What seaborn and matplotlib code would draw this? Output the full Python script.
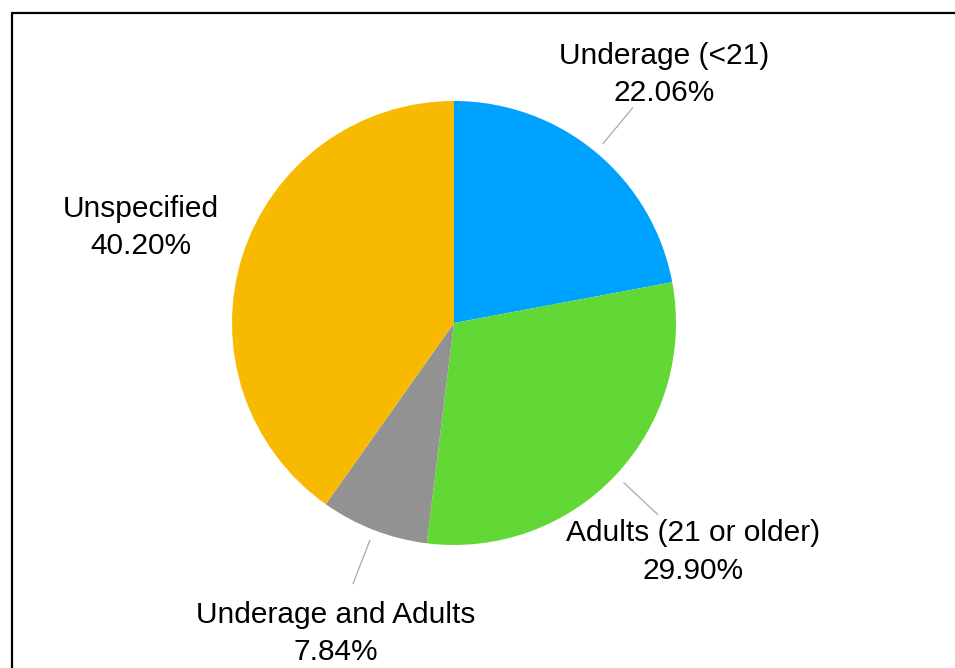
import matplotlib
matplotlib.use("Agg")
import matplotlib.pyplot as plt
import matplotlib.transforms as mtransforms
import seaborn as sns
import numpy as np

categories = ["Underage (<21)", "Adults (21 or older)", "Underage and Adults", "Unspecified"]
shares = [22.06, 29.90, 7.84, 40.20]
colors = ["#00A2FF", "#61D836", "#929292", "#F8BA00"]
show_leader = [True, True, True, False]

sns.set_theme(style="white")
plt.rcParams["font.family"] = ["Liberation Sans", "DejaVu Sans"]

fig = plt.figure(figsize=(9.55, 6.68), dpi=100)
# pie centre at (454, 323) px, radius 222 px
ax = fig.add_axes([232 / 955, 1 - 545 / 668, 444 / 955, 444 / 668])

labels = [f"{c}\n{s:.2f}%" for c, s in zip(categories, shares)]
wedges, texts = ax.pie(shares, labels=labels, colors=colors, startangle=90,
                       counterclock=False, labeldistance=1.48,
                       wedgeprops=dict(linewidth=0),
                       textprops=dict(fontsize=21.5, color="black"))
shift = mtransforms.offset_copy(ax.transData, fig=fig, x=0, y=-4, units="dots")
for t in texts:
    t.set_ha("center")
    t.set_va("center")
    t.set_linespacing(1.42)
    t.set_transform(shift)

# leader lines from the wedge edge to the label
for w, show in zip(wedges, show_leader):
    if not show:
        continue
    ang = np.deg2rad((w.theta1 + w.theta2) / 2)
    r = np.array([1.05, 1.26])
    ax.plot(r * np.cos(ang), r * np.sin(ang), color="#aaaaaa", linewidth=0.9, clip_on=False)

ax.set_xlim(-1, 1)
ax.set_ylim(-1, 1)
ax.set_aspect("equal")
ax.axis("off")

# frame lines (top and left)
top = 1 - 12.5 / 668
left = 11.5 / 955
fig.add_artist(plt.Line2D([left, 1], [top, top], color="black", linewidth=1.6, transform=fig.transFigure))
fig.add_artist(plt.Line2D([left, left], [0, top], color="black", linewidth=1.6, transform=fig.transFigure))

fig.savefig("out.png", dpi=100, facecolor="white")
